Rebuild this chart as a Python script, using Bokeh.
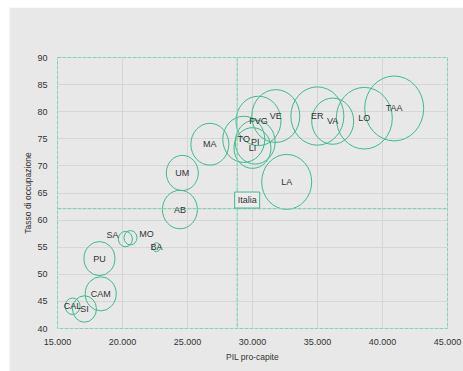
from bokeh.plotting import figure
from bokeh.models import ColumnDataSource, FixedTicker, Span, Label, LabelSet
from bokeh.core.properties import value
from bokeh.embed import file_html
from bokeh.resources import INLINE

# Data
regioni = ["TAA", "LO", "VA", "ER", "VE", "FVG", "TO", "PI", "LI", "MA", "LA",
           "UM", "AB", "SA", "MO", "BA", "PU", "CAM", "CAL", "SI"]
pil = [40900, 38600, 36170, 34990, 31790, 30460, 29330, 30206, 29999, 26720, 32630,
       24600, 24416, 20222, 20614, 22611, 18226, 18325, 16160, 17074]
occupazione = [80.6, 78.8, 78.25, 79.2, 79.2, 78.3, 74.9, 74.4, 73.3, 74.0, 67.05,
               68.7, 61.95, 56.5, 56.75, 55.0, 52.9, 46.4, 44.1, 43.6]
dimensione = [59, 56, 42, 53, 48, 45, 42, 40, 37, 38, 50,
              32, 35, 14, 13, 8, 31, 31, 15, 24]
label_dx = [0, 0, 0, 0, 0, 0, 0, 0, 0, 0, 0, 0, 0, -13, 16, 0, 0, 0, 0, 0]
label_dy = [0, 0, 0, 0, 0, 0, 0, 0, 0, 0, 0, 0, 0, 4, 4, 0, 0, 0, 0, 0]
italia_pil = 28825
italia_occ = 62.1
italia_label = (29590, 63.7)
x_ticks = [15000, 20000, 25000, 30000, 35000, 40000, 45000]
x_tick_labels = ["15.000", "20.000", "25.000", "30.000", "35.000", "40.000", "45.000"]
y_ticks = [40, 45, 50, 55, 60, 65, 70, 75, 80, 85, 90]

GREEN = "#3dba8b"
FRAME = "#86d2b2"
BG = "#e8e8e8"
TXT = "#333333"
FONT = "Liberation Sans"

src = ColumnDataSource(dict(x=pil, y=occupazione, w=dimensione,
                            h=[d * 1.1 for d in dimensione], name=regioni,
                            dx=label_dx, dy=label_dy))

p = figure(width=454, height=364, output_backend="svg", toolbar_location=None,
           x_range=(15000, 45000), y_range=(40, 90),
           min_border_left=48, min_border_right=16, min_border_top=50, min_border_bottom=43)
p.margin = (7, 0, 0, 9)
p.background_fill_color = BG
p.border_fill_color = BG
p.outline_line_color = FRAME
p.outline_line_width = 1
p.outline_line_dash = "4 1"

p.xaxis.ticker = FixedTicker(ticks=x_ticks)
p.xaxis.major_label_overrides = {t: l for t, l in zip(x_ticks, x_tick_labels)}
p.yaxis.ticker = FixedTicker(ticks=y_ticks)
for ax in (p.xaxis, p.yaxis):
    ax.axis_line_color = None
    ax.major_tick_line_color = None
    ax.minor_tick_line_color = None
    ax.major_label_text_font = FONT
    ax.major_label_text_font_size = "9px"
    ax.major_label_text_color = TXT
    ax.axis_label_text_font = FONT
    ax.axis_label_text_font_size = "8.5px"
    ax.axis_label_text_font_style = "normal"
    ax.axis_label_text_color = TXT
p.xaxis.axis_label = "PIL pro-capite"
p.yaxis.axis_label = "Tasso di occupazione"
p.xaxis.major_label_standoff = 4
p.xaxis.axis_label_standoff = 4
p.yaxis.major_label_standoff = 4
p.yaxis.axis_label_standoff = 1

p.grid.grid_line_color = "#d6d6d6"
p.grid.grid_line_width = 1

p.add_layout(Span(location=italia_pil, dimension="height", line_color=FRAME,
                  line_dash="4 1", line_width=1.2))
p.add_layout(Span(location=italia_occ, dimension="width", line_color=FRAME,
                  line_dash="4 1", line_width=1.2))

p.ellipse(x="x", y="y", width="w", height="h", width_units="screen", height_units="screen",
          source=src, fill_color=None, line_color=GREEN, line_width=1)

p.add_layout(LabelSet(x="x", y="y", text="name", x_offset="dx", y_offset="dy", source=src,
                      text_align="center", text_baseline="middle", text_font=value(FONT),
                      text_font_size=value("9px"), text_color=TXT))

p.add_layout(Label(x=italia_label[0], y=italia_label[1], text="Italia",
                   text_align="center", text_baseline="middle", text_font=FONT,
                   text_font_size="9px", text_color=TXT,
                   border_line_color=GREEN, border_line_width=1,
                   background_fill_color="#ececec", padding=3))

open("out.html", "w").write(file_html(p, INLINE))
